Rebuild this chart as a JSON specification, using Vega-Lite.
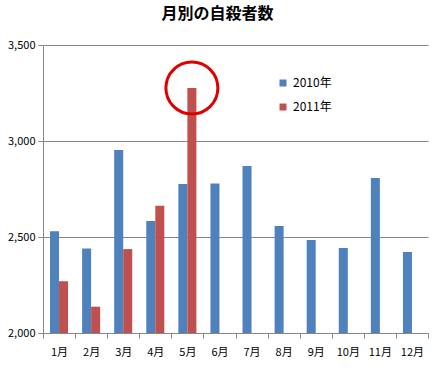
{
  "$schema": "https://vega.github.io/schema/vega-lite/v6.json",
  "width": 385,
  "height": 288,
  "autosize": {"type": "none"},
  "padding": {"left": 43, "top": 45, "right": 7, "bottom": 38},
  "background": "white",
  "title": {"text": "月別の自殺者数", "fontSize": 16, "font": "Noto Sans CJK JP", "fontWeight": "bold", "color": "#000000", "offset": 17, "dx": -18},
  "config": {
    "view": {"stroke": null},
    "font": "Noto Sans CJK JP"
  },
  "data": {"values": [
    {"month": "1月", "year": "2010年", "value": 2530},
    {"month": "2月", "year": "2010年", "value": 2440},
    {"month": "3月", "year": "2010年", "value": 2953},
    {"month": "4月", "year": "2010年", "value": 2583},
    {"month": "5月", "year": "2010年", "value": 2776},
    {"month": "6月", "year": "2010年", "value": 2778},
    {"month": "7月", "year": "2010年", "value": 2870},
    {"month": "8月", "year": "2010年", "value": 2557},
    {"month": "9月", "year": "2010年", "value": 2484},
    {"month": "10月", "year": "2010年", "value": 2443},
    {"month": "11月", "year": "2010年", "value": 2807},
    {"month": "12月", "year": "2010年", "value": 2422},
    {"month": "1月", "year": "2011年", "value": 2270},
    {"month": "2月", "year": "2011年", "value": 2137},
    {"month": "3月", "year": "2011年", "value": 2437},
    {"month": "4月", "year": "2011年", "value": 2663},
    {"month": "5月", "year": "2011年", "value": 3276}
  ]},
  "encoding": {
    "x": {
      "field": "month", "type": "nominal",
      "sort": ["1月","2月","3月","4月","5月","6月","7月","8月","9月","10月","11月","12月"],
      "scale": {"paddingInner": 0, "paddingOuter": 0},
      "axis": {"title": null, "labelAngle": 0, "tickBand": "extent", "tickSize": 5, "tickColor": "#868686", "domainColor": "#868686", "labelFontSize": 11, "labelColor": "#000000", "labelPadding": 8, "grid": false}
    },
    "xOffset": {
      "field": "year", "type": "nominal",
      "scale": {"domain": ["2010年", "2011年"], "paddingInner": 0, "paddingOuter": 0.778}
    },
    "y": {
      "field": "value", "type": "quantitative",
      "scale": {"domain": [2000, 3500], "zero": false, "nice": false, "clamp": true},
      "axis": {"title": null, "values": [2000, 2500, 3000, 3500], "format": ",.0f", "tickSize": 5, "tickColor": "#868686", "domainColor": "#868686", "gridColor": "#868686", "grid": true, "labelFontSize": 11, "labelColor": "#000000", "labelPadding": 3}
    }
  },
  "layer": [
    {
      "mark": {"type": "bar"},
      "encoding": {
        "color": {
          "field": "year", "type": "nominal",
          "scale": {"domain": ["2010年", "2011年"], "range": ["#4F81BD", "#C0504D"]},
          "legend": {"title": null, "orient": "none", "legendX": 234, "legendY": 32, "symbolType": "square", "symbolSize": 49, "labelFontSize": 12, "labelColor": "#000000", "rowPadding": 12, "symbolStrokeWidth": 0}
        }
      }
    },
    {
      "transform": [{"filter": "datum.month == '5月' && datum.year == '2011年'"}],
      "mark": {"type": "point", "filled": false, "shape": "circle", "size": 2700, "stroke": "#E00000", "strokeWidth": 3, "opacity": 1}
    }
  ]
}
